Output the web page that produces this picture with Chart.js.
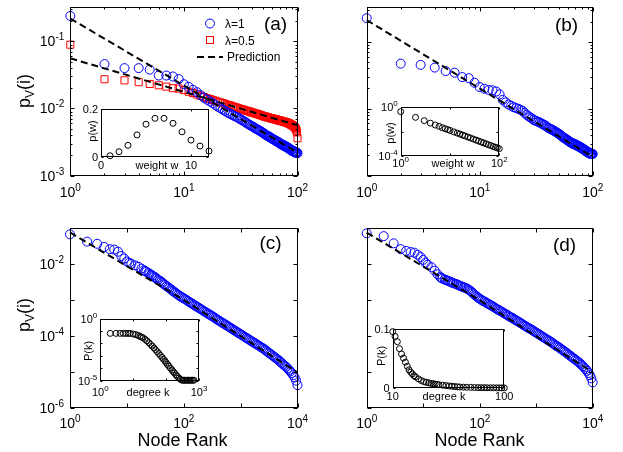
<!DOCTYPE html>
<html lang="en">
<head>
<meta charset="UTF-8">
<title>Node rank distributions</title>
<script src="https://cdn.jsdelivr.net/npm/chart.js"></script>
<style>
  body { margin: 0; background: #fff; }
  #wrap { position: relative; width: 623px; height: 452px; }
  #wrap canvas { position: absolute; left: 0; top: 0; }
</style>
</head>
<body>
<div id="wrap">
  <canvas id="chartA" width="623" height="452"></canvas>
  <canvas id="chartB" width="623" height="452"></canvas>
  <canvas id="chartC" width="623" height="452"></canvas>
  <canvas id="chartD" width="623" height="452"></canvas>
  <canvas id="insetA" width="623" height="452"></canvas>
  <canvas id="insetB" width="623" height="452"></canvas>
  <canvas id="insetC" width="623" height="452"></canvas>
  <canvas id="insetD" width="623" height="452"></canvas>
</div>

<script>
// ---- data ----
// panels (a) and (b): node rank 1..100
const rankAB = [1,2,3,4,5,6,7,8,9,10,11,12,13,14,15,16,17,18,19,20,21,22,23,24,25,26,27,28,29,30,
  31,32,33,34,35,36,37,38,39,40,41,42,43,44,45,46,47,48,49,50,51,52,53,54,55,56,57,58,59,60,
  61,62,63,64,65,66,67,68,69,70,71,72,73,74,75,76,77,78,79,80,81,82,83,84,85,86,87,88,89,90,
  91,92,93,94,95,96,97,98,99,100];
const blueA = [0.24,0.046,0.040,0.040,0.038,0.031,0.031,0.030,0.0275,0.023,
  0.021,0.019,0.0175,0.0158,0.0145,0.0135,0.0127,0.012,0.0112,0.0106,
  0.0101,0.0096,0.0092,0.0088,0.0085,0.0082,0.0079,0.0077,0.0075,0.0073,
  0.007,0.0068,0.0066,0.0064,0.0062,0.006,0.0058,0.0057,0.0055,0.0054,
  0.0053,0.0051,0.005,0.0049,0.0048,0.0047,0.0046,0.0045,0.0044,0.0043,
  0.0042,0.0041,0.004,0.0039,0.0039,0.0038,0.0037,0.0037,0.0036,0.0035,
  0.0035,0.0034,0.0034,0.0033,0.0033,0.0032,0.0032,0.0031,0.0031,0.003,
  0.003,0.0029,0.0029,0.0029,0.0028,0.0028,0.0028,0.0027,0.0027,0.0027,
  0.0026,0.0026,0.0026,0.0025,0.0025,0.0025,0.0024,0.0024,0.0024,0.0023,
  0.0023,0.0023,0.0023,0.0023,0.0022,0.0022,0.0022,0.0022,0.0022,0.00215];
const redA = [0.0895,0.0273,0.0263,0.0247,0.0232,0.0222,0.0212,0.0201,0.0198,0.0188,
  0.0178,0.017,0.0162,0.0155,0.0148,0.0143,0.0138,0.0134,0.013,0.0126,
  0.0123,0.012,0.0117,0.0114,0.0112,0.011,0.0107,0.0105,0.0103,0.0101,
  0.0099,0.0098,0.0096,0.0095,0.0093,0.0092,0.0091,0.009,0.0088,0.0087,
  0.0086,0.0085,0.0084,0.0083,0.0082,0.0081,0.008,0.0079,0.0078,0.0077,
  0.0076,0.0076,0.0075,0.0074,0.0074,0.0073,0.0072,0.0072,0.0071,0.0071,
  0.007,0.007,0.0069,0.0069,0.0068,0.0068,0.0067,0.0067,0.0066,0.0066,
  0.0066,0.0065,0.0065,0.0064,0.0064,0.0063,0.0063,0.0063,0.0062,0.0062,
  0.0061,0.0061,0.006,0.006,0.0059,0.0059,0.0058,0.0057,0.0057,0.0056,
  0.0055,0.0055,0.0054,0.0053,0.0052,0.0051,0.0049,0.0047,0.0044,0.0036];
const blueB = [0.225,0.047,0.045,0.041,0.0364,0.0344,0.0296,0.0285,0.0243,0.021,
  0.0198,0.019,0.0188,0.018,0.0163,0.0135,0.0124,0.0115,0.011,0.0105,
  0.0102,0.0099,0.0096,0.0092,0.0086,0.0081,0.0077,0.0074,0.0071,0.0068,
  0.0066,0.0065,0.0063,0.0062,0.006,0.0059,0.0057,0.0056,0.0054,0.0052,
  0.0051,0.005,0.0049,0.0048,0.0047,0.0046,0.0045,0.0044,0.0043,0.0042,
  0.0041,0.004,0.0039,0.0038,0.0037,0.0036,0.0036,0.0035,0.0034,0.0034,
  0.0033,0.0032,0.0032,0.0031,0.0031,0.003,0.003,0.003,0.0029,0.0029,
  0.0029,0.0028,0.0028,0.0028,0.0027,0.0027,0.0027,0.0026,0.0026,0.0026,
  0.0025,0.0025,0.0025,0.0024,0.0024,0.0024,0.0023,0.0023,0.0023,0.0022,
  0.0022,0.0022,0.0022,0.0022,0.0021,0.0021,0.0021,0.0021,0.0021,0.0021];
const predRank = [1, 100];
const predBlueA = [0.22, 0.0022];
const predRedA = [0.056, 0.0056];
const predB = [0.21, 0.0019];

// panels (c) and (d): node rank 1..10^4
const rankCD = [1,2,3,4,5,6,7,8,9,10,11,12,14,16,18,
  20,21,22,24,25,27,28,30,32,33,35,38,40,42,45,47,50,53,56,60,
  63,67,71,75,79,84,89,94,100,106,112,119,126,133,141,150,158,168,178,188,
  200,211,224,237,251,266,282,299,316,335,355,376,398,422,447,473,501,531,562,596,
  631,668,708,750,794,841,891,944,1000,1059,1122,1189,1259,1334,1413,1496,1585,1679,1778,1884,
  1995,2113,2239,2371,2512,2661,2818,2985,3162,3350,3548,3758,3981,4217,4467,4732,5012,5309,5623,5957,
  6310,6683,7079,7499,7943,8414,8913,9441,10000];
const blueC = [0.0667,0.0417,0.0363,0.0295,0.0257,0.0251,0.0219,0.0166,0.0141,0.0117,0.0107,0.0100,0.0091,0.0083,0.0074,
  0.0066,0.0063,0.0060,0.0056,0.0052,0.0050,0.0047,0.0044,0.0042,0.0039,
  0.0036,0.0034,0.0032,0.00295,0.00275,0.00257,0.0024,0.00224,0.0021,0.00195,
  0.0018,0.0017,0.00158,0.00148,0.00138,0.0013,0.00123,0.00116,0.0011,0.00104,
  0.00098,0.00092,0.00087,0.00082,0.00078,0.00073,0.00069,0.00065,0.00062,0.00058,
  0.00055,0.00052,0.00049,0.00046,0.00044,0.00041,0.00039,0.00037,0.00035,0.00033,
  0.00031,0.00029,0.000275,0.00026,0.000245,0.00023,0.000219,0.000207,0.000195,0.000184,
  0.000174,0.000164,0.000155,0.000146,0.000138,0.00013,0.000123,0.000116,0.00011,0.000104,
  0.000098,0.000092,0.000087,0.000082,0.000078,0.000073,0.000069,0.000065,0.000062,0.000058,
  0.000055,0.000052,0.000049,0.000046,0.000044,0.000041,0.000038,0.0000355,0.000033,0.000031,
  0.0000288,0.0000269,0.0000251,0.0000234,0.0000219,0.0000202,0.0000186,0.0000172,0.0000158,0.0000146,
  0.0000135,0.0000123,0.0000112,0.0000101,0.0000091,0.0000079,0.0000069,0.0000056,0.0000042];
const blueD = [0.069,0.0575,0.0363,0.0251,0.0224,0.0209,0.0200,0.0174,0.0151,0.0126,0.0105,0.0093,0.0079,0.0063,0.0050,
  0.0042,0.0040,0.0038,0.0036,0.00347,0.00335,0.00324,0.00313,0.0030,0.0029,
  0.0028,0.0027,0.0026,0.0025,0.0024,0.00232,0.00224,0.00216,0.0021,0.002,
  0.0019,0.00178,0.00166,0.00153,0.00141,0.0013,0.0012,0.00112,0.00105,0.00099,
  0.00093,0.00089,0.00085,0.0008,0.00076,0.00072,0.00069,0.00065,0.00062,0.00058,
  0.00055,0.00052,0.0005,0.00047,0.00045,0.00042,0.0004,0.00038,0.00036,0.00034,
  0.00032,0.00031,0.00029,0.000275,0.00026,0.000248,0.000234,0.000221,0.000209,0.000197,
  0.000186,0.000176,0.000166,0.000158,0.000151,0.000143,0.000135,0.000127,0.00012,0.000114,
  0.000107,0.000101,0.000095,0.00009,0.000085,0.00008,0.000076,0.000072,0.000068,0.000064,
  0.00006,0.000056,0.000052,0.00005,0.000047,0.000044,0.000041,0.0000385,0.000036,0.0000339,
  0.0000316,0.0000295,0.0000275,0.0000257,0.000024,0.0000224,0.0000209,0.0000195,0.0000182,0.0000168,
  0.0000155,0.0000141,0.0000129,0.0000116,0.0000105,0.0000091,0.0000079,0.0000065,0.000005];
const predRankCD = [1, 100, 10000];
const predC = [0.075, 0.001, 0.0000095];
const predD = [0.072, 0.00095, 0.0000095];

// insets
const wA = [1,2,3,4,5,6,7,8,9,10,11,12];
const pwA = [0.004,0.021,0.048,0.092,0.137,0.162,0.162,0.141,0.105,0.07,0.045,0.024];
const wB = [1,2,3,4,5,6,7,8,9,10,12,14,16,18,20,23,26,30,34,38,43,48,54,60,67,75,83,91,100];
const pwB = [0.44,0.15,0.08,0.05,0.035,0.027,0.021,0.0174,0.0148,0.0126,0.0095,0.0076,0.0063,0.0052,0.0045,
  0.0036,0.003,0.00245,0.002,0.0017,0.0014,0.0012,0.001,0.00085,0.00072,0.0006,0.00052,0.00046,0.0004];
const kC = [2,3,4,5,6,7,8,10,12,14,16,18,20,23,26,30,34,38,43,48,54,60,67,75,83,92,100,
  110,120,135,150,165,180,200,220,245,270,300,330,360,400,440,480,530,580,640,700];
const pkC = [0.063,0.063,0.063,0.063,0.063,0.063,0.063,0.056,0.05,0.0427,0.0363,0.0316,0.0275,0.0209,0.0158,0.0112,0.0079,0.006,
  0.0042,0.003,0.0021,0.0015,0.00105,0.00074,0.00052,0.00038,0.00028,
  0.0002,0.000148,0.0001,0.000071,0.000052,0.00004,0.000028,0.000021,0.000016,0.0000126,0.0000107,
  0.0000105,0.0000105,0.0000105,0.0000105,0.0000105,0.0000105,0.0000105,0.0000105,0.0000105];
const kD = [10,10.5,11,11.5,12,12.5,13,13.5,14,14.5,15,15.5,16,17,18,19,20,21,22,23,24,25,26,
  28,30,32,34,36,38,40,43,46,50,54,58,62,66,70,75,80,85,90,95,100];
const pkD = [0.096,0.088,0.079,0.067,0.058,0.051,0.044,0.037,0.031,0.027,0.024,0.021,0.019,
  0.0155,0.0128,0.0108,0.0097,0.0088,0.008,0.0073,0.0066,0.006,0.0055,
  0.0048,0.0041,0.0035,0.003,0.0025,0.002,0.0017,
  0.0014,0.0012,0.001,0.0008,0.0007,0.0006,0.0005,0.0004,0.0004,0.0003,0.0003,0.0002,0.0002,0.0002];

// ---- drawing helpers ----
const FONT = '"Liberation Sans", Arial, Helvetica, sans-serif';
const W = 623, H = 452;

function pts(xs, ys) { return xs.map((x, i) => ({ x, y: ys[i] })); }

function drawRuns(ctx, parts, x, y, align) {
  let w = 0;
  parts.forEach(p => { ctx.font = p[1] + 'px ' + FONT; w += ctx.measureText(p[0]).width; });
  let cx = align === 'right' ? x - w : align === 'center' ? x - w / 2 : x;
  parts.forEach(p => {
    ctx.font = p[1] + 'px ' + FONT;
    ctx.fillText(p[0], cx, y + (p[2] || 0));
    cx += ctx.measureText(p[0]).width;
  });
}
const pow10 = (e, s) => [['10', s, 0], [e, Math.round(s * 0.72), -Math.round(s * 0.45)]];
const txt = (t, s) => [[t, s, 0]];

const deco = {
  id: 'deco',
  beforeDraw(chart, args, o) {
    if (!o.fill) return;
    const a = chart.chartArea, ctx = chart.ctx;
    ctx.save();
    ctx.fillStyle = '#fff';
    ctx.fillRect(a.left, a.top, a.right - a.left, a.bottom - a.top);
    ctx.restore();
  },
  afterDraw(chart, args, o) {
    const ctx = chart.ctx, a = chart.chartArea, sx = chart.scales.x, sy = chart.scales.y;
    const L = Math.round(a.left) + 0.5, R = Math.round(a.right) - 0.5;
    const T = Math.round(a.top) + 0.5, B = Math.round(a.bottom) - 0.5;
    ctx.save();
    ctx.strokeStyle = '#000';
    ctx.lineWidth = 1;
    ctx.beginPath();
    const xt = (v, len) => { const p = Math.round(sx.getPixelForValue(v)) + 0.5; ctx.moveTo(p, B); ctx.lineTo(p, B - len); ctx.moveTo(p, T); ctx.lineTo(p, T + len); };
    const yt = (v, len) => { const p = Math.round(sy.getPixelForValue(v)) + 0.5; ctx.moveTo(L, p); ctx.lineTo(L + len, p); ctx.moveTo(R, p); ctx.lineTo(R - len, p); };
    (o.xMajor || []).forEach(v => xt(v, o.tick));
    (o.xMinor || []).forEach(v => xt(v, o.minorTick));
    (o.yMajor || []).forEach(v => yt(v, o.tick));
    (o.yMinor || []).forEach(v => yt(v, o.minorTick));
    ctx.stroke();
    ctx.strokeRect(L, T, R - L, B - T);

    ctx.fillStyle = '#000';
    ctx.textBaseline = 'alphabetic';
    (o.xLabels || []).forEach(l => drawRuns(ctx, l[1], sx.getPixelForValue(l[0]), a.bottom + o.xOff, 'center'));
    (o.yLabels || []).forEach(l => drawRuns(ctx, l[1], a.left - o.yGap, sy.getPixelForValue(l[0]) + o.yShift, 'right'));
    (o.texts || []).forEach(t => {
      if (t.rot) {
        ctx.save();
        ctx.translate(t.x, t.y);
        ctx.rotate(-Math.PI / 2);
        drawRuns(ctx, t.parts, 0, t.parts[0][1] * 0.35, 'center');
        ctx.restore();
      } else {
        drawRuns(ctx, t.parts, t.x, t.y, t.align || 'center');
      }
    });
    ctx.restore();
  }
};
Chart.register(deco);

const legendA = {
  id: 'legendA',
  afterDraw(chart) {
    const ctx = chart.ctx;
    ctx.save();
    ctx.lineWidth = 1;
    ctx.strokeStyle = '#0000ff';
    ctx.beginPath(); ctx.arc(210, 23.5, 4.5, 0, Math.PI * 2); ctx.stroke();
    ctx.strokeStyle = '#ff0000';
    ctx.strokeRect(206.5, 36.5, 7, 7);
    ctx.strokeStyle = '#000';
    ctx.lineWidth = 2;
    ctx.setLineDash([7, 4]);
    ctx.beginPath(); ctx.moveTo(197, 57); ctx.lineTo(223, 57); ctx.stroke();
    ctx.fillStyle = '#000';
    drawRuns(ctx, txt('\u03bb=1', 12), 225, 28, 'left');
    drawRuns(ctx, txt('\u03bb=0.5', 12), 225, 45, 'left');
    drawRuns(ctx, txt('Prediction', 12), 227, 61, 'left');
    ctx.restore();
  }
};

function circles(data, color, r) {
  return { data, showLine: false, pointStyle: 'circle', pointRadius: r, pointBorderWidth: 1,
    pointBorderColor: color, pointBackgroundColor: 'rgba(0,0,0,0)', clip: false };
}
function squares(data, color, r) {
  return { data, showLine: false, pointStyle: 'rect', pointRadius: r, pointBorderWidth: 1,
    pointBorderColor: color, pointBackgroundColor: 'rgba(0,0,0,0)', clip: false };
}
function dashed(data) {
  return { data, showLine: true, borderColor: '#000', borderWidth: 2, borderDash: [7, 4],
    pointRadius: 0, fill: false, clip: false };
}

function makeChart(id, box, xs, ys, datasets, decoOpts, plugins) {
  return new Chart(document.getElementById(id), {
    type: 'scatter',
    data: { datasets },
    options: {
      responsive: false,
      animation: false,
      events: [],
      layout: { padding: { left: box[0], top: box[1], right: W - box[2], bottom: H - box[3] } },
      scales: {
        x: Object.assign({ display: false }, xs),
        y: Object.assign({ display: false }, ys)
      },
      plugins: { legend: { display: false }, tooltip: { enabled: false }, deco: decoOpts }
    },
    plugins: plugins || []
  });
}

const minorX2 = [2,3,4,5,6,7,8,9,20,30,40,50,60,70,80,90];
const minorY = [0.002,0.003,0.004,0.005,0.006,0.007,0.008,0.009,0.02,0.03,0.04,0.05,0.06,0.07,0.08,0.09,0.2,0.3];
const logAB = { x: { type: 'logarithmic', min: 1, max: 100 }, y: { type: 'logarithmic', min: 0.001, max: 0.33 } };
const logCD = { x: { type: 'logarithmic', min: 1, max: 10000 }, y: { type: 'logarithmic', min: 1e-6, max: 0.1 } };
const xLabAB = [[1, pow10('0', 14)], [10, pow10('1', 14)], [100, pow10('2', 14)]];
const xLabCD = [[1, pow10('0', 14)], [100, pow10('2', 14)], [10000, pow10('4', 14)]];
const pvLabel = [['p', 18, 0], ['V', 12, 4], ['(i)', 18, 0]];

// (a)
makeChart('chartA', [70.3, 6.7, 297.5, 175.5], logAB.x, logAB.y, [
  dashed(pts(predRank, predBlueA)),
  dashed(pts(predRank, predRedA)),
  circles(pts(rankAB, blueA), '#0000ff', 4.5),
  squares(pts(rankAB, redA), '#ff0000', 5)
], {
  tick: 4, minorTick: 2,
  xMajor: [1, 10, 100], xMinor: minorX2,
  yMajor: [0.001, 0.01, 0.1], yMinor: minorY,
  xLabels: xLabAB, xOff: 21,
  yLabels: [[0.1, pow10('-1', 14)], [0.01, pow10('-2', 14)], [0.001, pow10('-3', 14)]], yGap: 6, yShift: 5,
  texts: [
    { parts: pvLabel, x: 24, y: 91, rot: true },
    { parts: txt('(a)', 19), x: 275.5, y: 30 }
  ]
}, [legendA]);

// (b)
makeChart('chartB', [366.7, 7, 592.7, 175.5], logAB.x, logAB.y, [
  dashed(pts(predRank, predB)),
  circles(pts(rankAB, blueB), '#0000ff', 4.5)
], {
  tick: 4, minorTick: 2,
  xMajor: [1, 10, 100], xMinor: minorX2,
  yMajor: [0.001, 0.01, 0.1], yMinor: minorY,
  xLabels: xLabAB, xOff: 21,
  texts: [{ parts: txt('(b)', 19), x: 566.5, y: 31 }]
});

// (c)
makeChart('chartC', [70, 228, 297.5, 407.5], logCD.x, logCD.y, [
  dashed(pts(predRankCD, predC)),
  circles(pts(rankCD, blueC), '#0000ff', 4.5)
], {
  tick: 4, minorTick: 2,
  xMajor: [1, 10, 100, 1000, 10000],
  yMajor: [1e-6, 1e-5, 1e-4, 1e-3, 1e-2, 1e-1],
  xLabels: xLabCD, xOff: 20,
  yLabels: [[1e-2, pow10('-2', 14)], [1e-4, pow10('-4', 14)], [1e-6, pow10('-6', 14)]], yGap: 6, yShift: 5,
  texts: [
    { parts: pvLabel, x: 24, y: 315, rot: true },
    { parts: txt('(c)', 19), x: 270.5, y: 249 },
    { parts: txt('Node Rank', 18), x: 182.5, y: 446 }
  ]
});

// (d)
makeChart('chartD', [366.7, 227.5, 592.7, 407.5], logCD.x, logCD.y, [
  dashed(pts(predRankCD, predD)),
  circles(pts(rankCD, blueD), '#0000ff', 4.5)
], {
  tick: 4, minorTick: 2,
  xMajor: [1, 10, 100, 1000, 10000],
  yMajor: [1e-6, 1e-5, 1e-4, 1e-3, 1e-2, 1e-1],
  xLabels: xLabCD, xOff: 20,
  texts: [
    { parts: txt('(d)', 19), x: 564.5, y: 251 },
    { parts: txt('Node Rank', 18), x: 479.5, y: 446 }
  ]
});

// insets
makeChart('insetA', [101, 109.3, 209, 156.7], { type: 'linear', min: 0, max: 12 }, { type: 'linear', min: 0, max: 0.2 }, [
  circles(pts(wA, pwA), '#000', 3)
], {
  fill: true, tick: 2, minorTick: 0,
  xMajor: [0, 10], yMajor: [0, 0.2],
  xLabels: [[0, txt('0', 11)], [10, txt('10', 11)]], xOff: 12,
  yLabels: [[0, txt('0', 11)], [0.2, txt('0.2', 11)]], yGap: 3, yShift: 4,
  texts: [
    { parts: txt('weight w', 11), x: 157, y: 169 },
    { parts: txt('p(w)', 11), x: 92, y: 131, rot: true }
  ]
});

makeChart('insetB', [400.7, 107.3, 499.3, 156], { type: 'logarithmic', min: 1, max: 100 }, { type: 'logarithmic', min: 1e-4, max: 1 }, [
  circles(pts(wB, pwB), '#000', 3)
], {
  fill: true, tick: 2, minorTick: 0,
  xMajor: [1, 10, 100], yMajor: [1e-4, 1e-2, 1],
  xLabels: [[1, pow10('0', 11)], [100, pow10('2', 11)]], xOff: 11,
  yLabels: [[1, pow10('0', 11)], [1e-4, pow10('-4', 11)]], yGap: 3, yShift: 4,
  texts: [
    { parts: txt('weight w', 11), x: 453, y: 167 },
    { parts: txt('p(w)', 11), x: 390, y: 133, rot: true }
  ]
});

makeChart('insetC', [100.3, 318.5, 199, 380.5], { type: 'logarithmic', min: 1, max: 1000 }, { type: 'logarithmic', min: 1e-5, max: 1 }, [
  circles(pts(kC, pkC), '#000', 3)
], {
  fill: true, tick: 2, minorTick: 0,
  xMajor: [1, 10, 100, 1000], yMajor: [1e-5, 1e-4, 1e-3, 1e-2, 1e-1, 1],
  xLabels: [[1, pow10('0', 11)], [1000, pow10('3', 11)]], xOff: 15,
  yLabels: [[1, pow10('0', 11)], [1e-5, pow10('-5', 11)]], yGap: 3, yShift: 4,
  texts: [
    { parts: txt('degree k', 11), x: 148, y: 395.5 },
    { parts: txt('P(k)', 11), x: 88, y: 351, rot: true }
  ]
});

makeChart('insetD', [392.7, 329.3, 504.3, 388], { type: 'logarithmic', min: 10, max: 100 }, { type: 'linear', min: 0, max: 0.1 }, [
  circles(pts(kD, pkD), '#000', 3)
], {
  fill: true, tick: 2, minorTick: 0,
  xMajor: [10, 100], yMajor: [0, 0.1],
  xLabels: [[10, txt('10', 11)], [100, txt('100', 11)]], xOff: 12,
  yLabels: [[0, txt('0', 11)], [0.1, txt('0.1', 11)]], yGap: 3, yShift: 4,
  texts: [
    { parts: txt('degree k', 11), x: 444, y: 400 },
    { parts: txt('P(k)', 11), x: 381, y: 356, rot: true }
  ]
});
</script>
</body>
</html>
